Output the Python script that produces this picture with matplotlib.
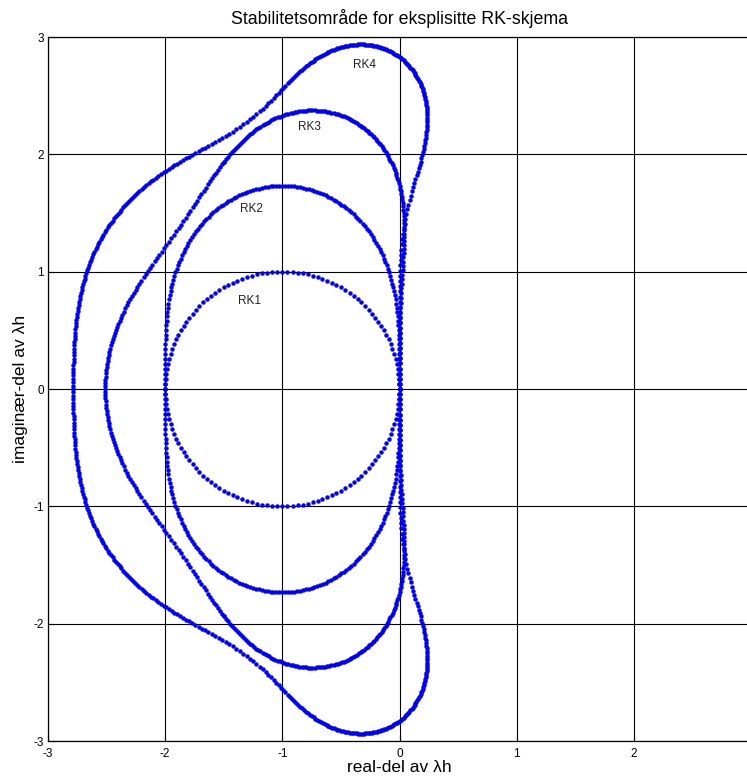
import numpy as np
import matplotlib
matplotlib.use("Agg")
import matplotlib.pyplot as plt

plt.rcParams['font.family'] = ['Liberation Sans', 'DejaVu Sans']
plt.rcParams['axes.unicode_minus'] = False

# Stability polynomial coefficients R(z) = sum c_k z^k (ascending order)
rk_coeffs = {
    "RK1": [1, 1],
    "RK2": [1, 1, 1/2],
    "RK3": [1, 1, 1/2, 1/6],
    "RK4": [1, 1, 1/2, 1/6, 1/24],
}
label_pos = {"RK1": (-1.28, 0.75), "RK2": (-1.26, 1.53), "RK3": (-0.77, 2.23), "RK4": (-0.30, 2.76)}
n_theta = 145
xticks = [-3, -2, -1, 0, 1, 2]
yticks = [-3, -2, -1, 0, 1, 2, 3]

fig = plt.figure(figsize=(7.47, 7.79), dpi=100)
ax = fig.add_axes([48/747, (779-741)/779, (751-48)/747, (741-37)/779])

theta = np.linspace(0, 2*np.pi, n_theta)
for name, c in rk_coeffs.items():
    pts = []
    for t in theta:
        p = list(c[::-1])
        p[-1] = p[-1] - np.exp(1j*t)
        pts.extend(np.roots(p))
    pts = np.array(pts)
    ax.plot(pts.real, pts.imag, linestyle='none', marker='o', markersize=3.2,
            markeredgewidth=0, color='#0000ff')
    x, y = label_pos[name]
    ax.text(x, y, name, fontsize=8.5, ha='center', va='center', color='#222222')

ax.set_xlim(-3, 3)
ax.set_ylim(-3, 3)
ax.set_xticks(xticks)
ax.set_yticks(yticks)
ax.tick_params(direction='in', length=4, labelsize=8.5, width=0.8)
ax.tick_params(axis='x', pad=5)
ax.tick_params(axis='y', pad=3)
ax.grid(True, color='black', linewidth=0.8, linestyle='-')
ax.set_axisbelow(True)
for s in ax.spines.values():
    s.set_linewidth(0.9)
ax.set_title('Stabilitetsområde for eksplisitte RK-skjema', fontsize=12.8, pad=9)
ax.set_xlabel('real-del av λh', fontsize=12.5, labelpad=0)
ax.set_ylabel('imaginær-del av λh', fontsize=12.5, labelpad=4)

fig.savefig('out.png', dpi=100)
